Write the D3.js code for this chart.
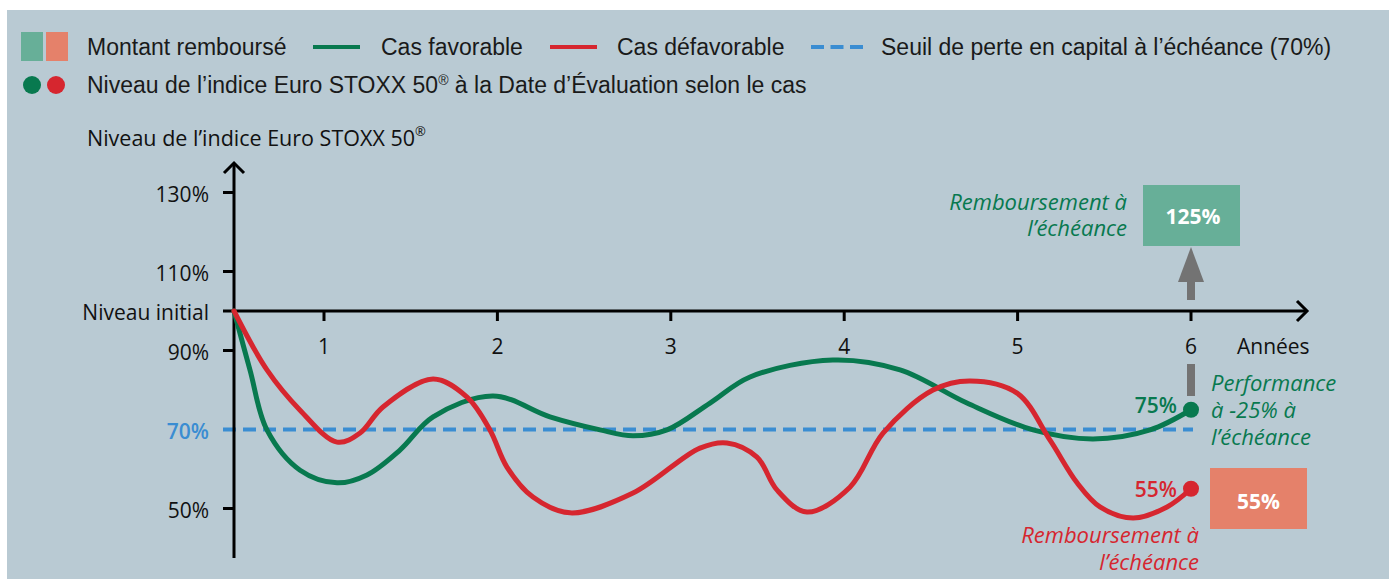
<!DOCTYPE html>
<html><head><meta charset="utf-8">
<script src="https://cdn.jsdelivr.net/npm/d3@7"></script>
<style>
html,body{margin:0;padding:0;background:#fff;}
svg{display:block;}
</style></head>
<body>
<svg id="chart" width="1389" height="579"></svg>
<script>
// ---- data ----
const xTicks = [1, 2, 3, 4, 5, 6];
const yTicks = [130, 110, 100, 90, 70, 50];
const yTickLabels = ["130%", "110%", "Niveau initial", "90%", "70%", "50%"];
const threshold = 70;
const favT = [0.481,0.573,0.671,0.862,1.075,1.248,1.438,1.629,1.975,2.303,2.592,2.782,2.978,3.226,3.457,3.935,4.322,4.708,5.089,5.435,5.764,6.0];
const favV = [100,85.1,69.9,59.7,56.5,58.5,64.8,73.2,78.5,73.2,69.9,68.4,69.9,76.7,83.3,87.6,85.1,76.7,69.9,67.6,69.9,75];
const defT = [0.481,0.671,0.862,1.075,1.208,1.340,1.629,1.825,1.957,2.055,2.205,2.419,2.782,3.168,3.324,3.497,3.612,3.785,4.033,4.224,4.512,4.725,4.997,5.187,5.343,5.475,5.666,5.862,6.0];
const defV = [100,85.1,74.9,66.8,69.1,75.7,82.8,78.2,69.9,60.5,52.9,48.9,53.9,65.3,66.6,63.0,54.7,49.1,55.4,69.1,80.0,82.3,79.2,67.3,56.5,50.4,47.6,50.4,55];
const finalFav = 75, finalDef = 55, repayFav = 125, repayDef = 55;
const legendItems = ["Montant remboursé", "Cas favorable", "Cas défavorable", "Seuil de perte en capital à l’échéance (70%)"];
const legendDotsA = "Niveau de l’indice Euro STOXX 50", legendDotsB = " à la Date d’Évaluation selon le cas";

// ---- style ----
const C = {bg:"#b9cad3", green:"#08794f", red:"#d6262f", blue:"#3a8dd2", boxG:"#67af98", boxR:"#e5816a", grey:"#737373"};
const axisFont = "'Open Sans', 'Noto Sans', sans-serif";
const legFont = "'Liberation Sans', Arial, sans-serif";

const svg = d3.select("#chart");
svg.append("rect").attr("x",7).attr("y",10).attr("width",1382).attr("height",569).attr("fill",C.bg);

const x = d3.scaleLinear().domain([0,6]).range([150.6,1191]);
const y = d3.scaleLinear().domain([50,130]).range([508.5,192.5]);
const x0 = x(favT[0]), yBase = y(100);

// legend
const lg = svg.append("g").attr("font-family",legFont).attr("font-size",23).attr("fill","#1a1a1a");
lg.append("rect").attr("x",21).attr("y",32).attr("width",22).attr("height",29).attr("fill",C.boxG);
lg.append("rect").attr("x",46).attr("y",32).attr("width",22).attr("height",29).attr("fill",C.boxR);
lg.append("text").attr("x",87).attr("y",47).attr("dy","0.35em").text(legendItems[0]);
lg.append("line").attr("x1",313).attr("x2",360).attr("y1",47).attr("y2",47).attr("stroke",C.green).attr("stroke-width",4);
lg.append("text").attr("x",381).attr("y",47).attr("dy","0.35em").text(legendItems[1]);
lg.append("line").attr("x1",550).attr("x2",597).attr("y1",47).attr("y2",47).attr("stroke",C.red).attr("stroke-width",4);
lg.append("text").attr("x",617).attr("y",47).attr("dy","0.35em").text(legendItems[2]);
lg.append("line").attr("x1",811).attr("x2",863).attr("y1",47).attr("y2",47).attr("stroke",C.blue).attr("stroke-width",4).attr("stroke-dasharray","13,6.5");
lg.append("text").attr("x",881).attr("y",47).attr("dy","0.35em").text(legendItems[3]);
lg.append("circle").attr("cx",32).attr("cy",85).attr("r",9).attr("fill",C.green);
lg.append("circle").attr("cx",56).attr("cy",85).attr("r",9).attr("fill",C.red);
const ld = lg.append("text").attr("x",87).attr("y",85).attr("dy","0.35em");
ld.append("tspan").text(legendDotsA);
ld.append("tspan").attr("font-size",14).attr("dy",-8).text("®");
ld.append("tspan").attr("dy",8).text(legendDotsB);

// y-axis title
const yt = svg.append("text").attr("x",87).attr("y",146).attr("font-family",axisFont).attr("font-size",21.5).attr("fill","#111");
yt.append("tspan").text("Niveau de l’indice Euro STOXX 50");
yt.append("tspan").attr("font-size",13).attr("dy",-10).text("®");

// threshold line
svg.append("line").attr("x1",223).attr("x2",x(6)+2).attr("y1",y(threshold)).attr("y2",y(threshold))
  .attr("stroke",C.blue).attr("stroke-width",4).attr("stroke-dasharray","13,7");

// axes
const ax = svg.append("g").attr("stroke","#000").attr("stroke-width",3).attr("fill","none");
ax.append("line").attr("x1",x0).attr("x2",x0).attr("y1",163).attr("y2",558);
ax.append("path").attr("d",`M${x0-10},${173}L${x0},${163}L${x0+10},${173}`);
ax.append("line").attr("x1",223).attr("x2",1307).attr("y1",yBase).attr("y2",yBase);
ax.append("path").attr("d",`M1297,${yBase-10}L1307,${yBase}L1297,${yBase+10}`);
yTicks.filter(v=>v!==100 && v!==threshold).forEach(v=>{
  ax.append("line").attr("x1",223).attr("x2",x0).attr("y1",y(v)).attr("y2",y(v));
});
xTicks.forEach(t=>{
  ax.append("line").attr("x1",x(t)).attr("x2",x(t)).attr("y1",yBase).attr("y2",yBase+10);
});

// tick labels
const tl = svg.append("g").attr("font-family",axisFont).attr("font-size",21);
yTicks.forEach((v,i)=>{
  tl.append("text").attr("x",209).attr("y",y(v)+2).attr("dy","0.35em").attr("text-anchor","end")
    .attr("fill", v===threshold ? C.blue : "#111").attr("font-weight", v===threshold ? 600 : 400)
    .text(yTickLabels[i]);
});
xTicks.forEach(t=>{
  tl.append("text").attr("x",x(t)).attr("y",347).attr("dy","0.35em").attr("text-anchor","middle").attr("fill","#111").text(t);
});
tl.append("text").attr("x",1237).attr("y",347).attr("dy","0.35em").attr("fill","#111").text("Années");

// curves
const line = d3.line().x(d=>x(d[0])).y(d=>y(d[1])).curve(d3.curveCatmullRom.alpha(0.5));
svg.append("path").datum(d3.zip(favT,favV)).attr("d",line).attr("fill","none").attr("stroke",C.green).attr("stroke-width",5).attr("stroke-linecap","round");
svg.append("path").datum(d3.zip(defT,defV)).attr("d",line).attr("fill","none").attr("stroke",C.red).attr("stroke-width",5).attr("stroke-linecap","round");

// end dots
svg.append("circle").attr("cx",x(6)).attr("cy",y(finalFav)).attr("r",8).attr("fill",C.green);
svg.append("circle").attr("cx",x(6)).attr("cy",y(finalDef)).attr("r",8).attr("fill",C.red);
svg.append("text").attr("x",x(6)-14).attr("y",y(finalFav)-4).attr("dy","0.35em").attr("text-anchor","end")
  .attr("font-family",axisFont).attr("font-size",21).attr("font-weight",600).attr("fill",C.green).text(finalFav+"%");
svg.append("text").attr("x",x(6)-14).attr("y",y(finalDef)+1).attr("dy","0.35em").attr("text-anchor","end")
  .attr("font-family",axisFont).attr("font-size",21).attr("font-weight",600).attr("fill",C.red).text(finalDef+"%");

// grey arrow
svg.append("rect").attr("x",x(6)-4).attr("y",364).attr("width",8).attr("height",32).attr("fill",C.grey);
svg.append("rect").attr("x",x(6)-4).attr("y",280).attr("width",8).attr("height",20).attr("fill",C.grey);
svg.append("path").attr("d",`M${x(6)-13},282L${x(6)},247L${x(6)+13},282Z`).attr("fill",C.grey);

// boxes
svg.append("rect").attr("x",1143).attr("y",185).attr("width",97).attr("height",61).attr("fill",C.boxG);
svg.append("text").attr("x",1193).attr("y",217).attr("dy","0.35em").attr("text-anchor","middle")
  .attr("font-family",axisFont).attr("font-size",21).attr("font-weight",700).attr("fill","#fff").text(repayFav+"%");
svg.append("rect").attr("x",1210).attr("y",468).attr("width",97).attr("height",61).attr("fill",C.boxR);
svg.append("text").attr("x",1258.5).attr("y",502).attr("dy","0.35em").attr("text-anchor","middle")
  .attr("font-family",axisFont).attr("font-size",21).attr("font-weight",700).attr("fill","#fff").text(repayDef+"%");

// annotations
function multi(lines, xx, yy, anchor, color, lh){
  lines.forEach((s,i)=>svg.append("text").attr("font-family",axisFont).attr("font-style","italic").attr("font-size",22)
    .attr("fill",color).attr("text-anchor",anchor).attr("x",xx).attr("y",yy+i*lh).attr("dy","0.35em").text(s));
}
multi(["Remboursement à","l’échéance"],1127,202,"end",C.green,26);
multi(["Performance","à -25% à","l’échéance"],1211,383,"start",C.green,27);
multi(["Remboursement à","l’échéance"],1199,535,"end",C.red,27);
</script>
</body></html>
